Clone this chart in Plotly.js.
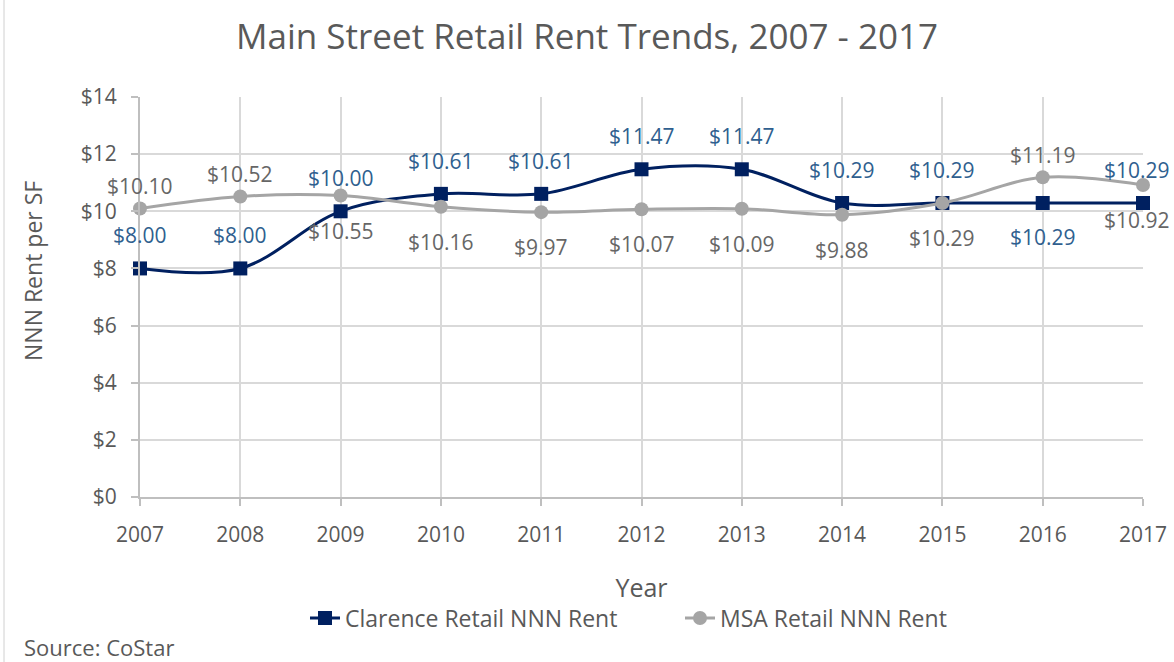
<!DOCTYPE html>
<html>
<head>
<meta charset="utf-8">
<script src="https://cdn.plot.ly/plotly-3.0.1.min.js"></script>
<style>html,body{margin:0;padding:0;background:#fff;}#chart{width:1174px;height:662px;}</style>
</head>
<body>
<div id="chart"></div>
<script>
const years = [2007, 2008, 2009, 2010, 2011, 2012, 2013, 2014, 2015, 2016, 2017];
const clarenceRent = [8.00, 8.00, 10.00, 10.61, 10.61, 11.47, 11.47, 10.29, 10.29, 10.29, 10.29];
const msaRent = [10.10, 10.52, 10.55, 10.16, 9.97, 10.07, 10.09, 9.88, 10.29, 11.19, 10.92];
const yTicks = [0, 2, 4, 6, 8, 10, 12, 14];
const clarenceSide = ['above','above','above','above','above','above','above','above','above','below','above'];
const msaSide = ['above','above','below','below','below','below','below','below','below','above','below'];

const FONT = '"Open Sans", "Noto Sans", sans-serif';
const GREY_TEXT = '#595959';

const traces = [
  {
    x: years, y: clarenceRent, type: 'scatter', mode: 'lines+markers',
    name: 'Clarence Retail NNN Rent',
    line: {color: '#002060', width: 3, shape: 'spline', smoothing: 1},
    marker: {symbol: 'square', size: 14, color: '#002060'},
    cliponaxis: false
  },
  {
    x: years, y: msaRent, type: 'scatter', mode: 'lines+markers',
    name: 'MSA Retail NNN Rent',
    line: {color: '#A5A5A5', width: 3, shape: 'spline', smoothing: 1},
    marker: {symbol: 'circle', size: 14, color: '#A5A5A5'},
    cliponaxis: false
  }
];

const annotations = [];
function addLabels(vals, sides, color, up, down) {
  vals.forEach((v, i) => {
    const last = i === vals.length - 1;
    annotations.push({
      x: years[i], y: v, xref: 'x', yref: 'y', showarrow: false,
      text: '$' + v.toFixed(2),
      xanchor: last ? 'right' : 'center',
      xshift: last ? 29 : 0,
      yshift: sides[i] === 'above' ? up : -down,
      font: {family: FONT, size: 21, color: color}
    });
  });
}
addLabels(clarenceRent, clarenceSide, '#2F5F8F', 33, 34);
addLabels(msaRent, msaSide, '#666666', 22, 35);

annotations.push({
  xref: 'paper', yref: 'paper', x: (22 - 140) / 1003, y: (497 - 647) / 400,
  xanchor: 'left', yanchor: 'middle', showarrow: false,
  text: 'Source: CoStar', font: {family: FONT, size: 22, color: GREY_TEXT}
});
annotations.push({
  xref: 'paper', yref: 'paper', x: (33 - 140) / 1003, y: (497 - 271) / 400,
  xanchor: 'center', yanchor: 'middle', showarrow: false, textangle: -90,
  text: 'NNN Rent per SF', font: {family: FONT, size: 23, color: GREY_TEXT}
});

const layout = {
  width: 1174, height: 662,
  margin: {l: 140, r: 31, t: 97, b: 165},
  paper_bgcolor: '#ffffff', plot_bgcolor: '#ffffff',
  font: {family: FONT, color: GREY_TEXT},
  title: {
    text: 'Main Street Retail Rent Trends, 2007 - 2017',
    font: {family: FONT, size: 35, color: GREY_TEXT},
    x: (587) / 1174, xanchor: 'center', y: 1 - 37 / 662, yanchor: 'middle'
  },
  xaxis: {
    range: [2007, 2017], tickvals: years, ticktext: years.map(String),
    showgrid: true, gridcolor: '#D9D9D9', gridwidth: 2,
    showline: true, linecolor: '#BFBFBF', linewidth: 2,
    ticks: 'outside', ticklen: 7, tickcolor: '#BFBFBF', tickwidth: 2,
    tickfont: {family: FONT, size: 21, color: GREY_TEXT},
    ticklabelstandoff: 11,
    zeroline: false, automargin: false,
    title: {text: 'Year', font: {family: FONT, size: 25, color: GREY_TEXT}, standoff: 32}
  },
  yaxis: {
    range: [0, 14], tickvals: yTicks, ticktext: yTicks.map(v => '$' + v),
    showgrid: true, gridcolor: '#D9D9D9', gridwidth: 2,
    showline: true, linecolor: '#BFBFBF', linewidth: 2,
    ticks: 'outside', ticklen: 7, tickcolor: '#BFBFBF', tickwidth: 2,
    tickfont: {family: FONT, size: 21, color: GREY_TEXT},
    ticklabelstandoff: 10,
    zeroline: false, automargin: false
  },
  showlegend: true,
  legend: {
    orientation: 'h', x: (680 - 140) / 1003, xanchor: 'center', y: (497 - 618) / 400, yanchor: 'middle',
    font: {family: FONT, size: 23, color: GREY_TEXT}, bgcolor: 'rgba(0,0,0,0)',
    entrywidth: 330
  },
  annotations: annotations,
  shapes: [{
    type: 'line', xref: 'paper', yref: 'paper',
    x0: (4 - 140) / 1003, x1: (4 - 140) / 1003, y0: (497 - 0) / 400, y1: (497 - 662) / 400,
    line: {color: '#D0D0D0', width: 1}
  }]
};

Plotly.newPlot('chart', traces, layout, {displayModeBar: false, staticPlot: true});
</script>
</body>
</html>
